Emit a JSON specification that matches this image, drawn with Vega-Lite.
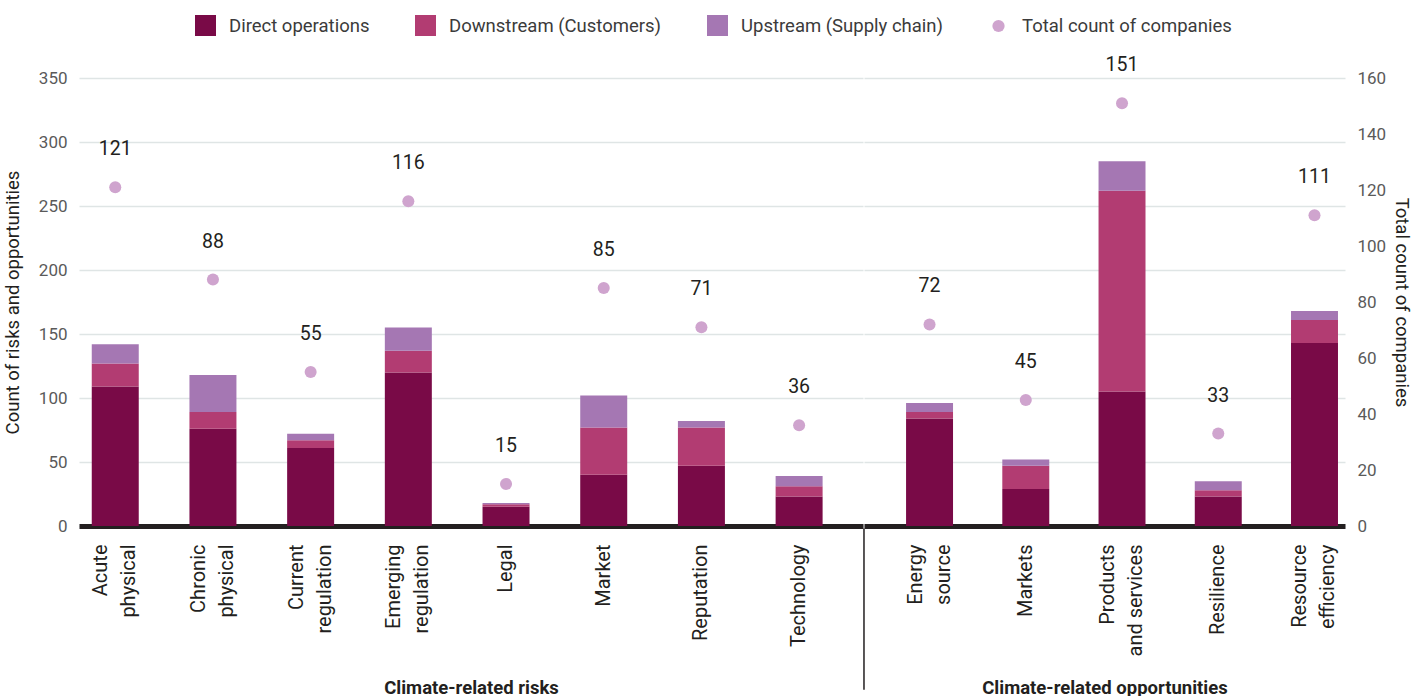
{
  "$schema": "https://vega.github.io/schema/vega-lite/v6.json",
  "background": "white",
  "padding": {"left": 3, "top": 15, "right": 5, "bottom": 3},
  "spacing": 0,
  "datasets": {
    "bars": [
      {"group": "Climate-related risks", "category": "Acute physical", "source": "Direct operations", "value": 109},
      {"group": "Climate-related risks", "category": "Acute physical", "source": "Downstream (Customers)", "value": 18},
      {"group": "Climate-related risks", "category": "Acute physical", "source": "Upstream (Supply chain)", "value": 15},
      {"group": "Climate-related risks", "category": "Chronic physical", "source": "Direct operations", "value": 76},
      {"group": "Climate-related risks", "category": "Chronic physical", "source": "Downstream (Customers)", "value": 13},
      {"group": "Climate-related risks", "category": "Chronic physical", "source": "Upstream (Supply chain)", "value": 29},
      {"group": "Climate-related risks", "category": "Current regulation", "source": "Direct operations", "value": 61},
      {"group": "Climate-related risks", "category": "Current regulation", "source": "Downstream (Customers)", "value": 6},
      {"group": "Climate-related risks", "category": "Current regulation", "source": "Upstream (Supply chain)", "value": 5},
      {"group": "Climate-related risks", "category": "Emerging regulation", "source": "Direct operations", "value": 120},
      {"group": "Climate-related risks", "category": "Emerging regulation", "source": "Downstream (Customers)", "value": 17},
      {"group": "Climate-related risks", "category": "Emerging regulation", "source": "Upstream (Supply chain)", "value": 18},
      {"group": "Climate-related risks", "category": "Legal", "source": "Direct operations", "value": 15},
      {"group": "Climate-related risks", "category": "Legal", "source": "Downstream (Customers)", "value": 2},
      {"group": "Climate-related risks", "category": "Legal", "source": "Upstream (Supply chain)", "value": 1},
      {"group": "Climate-related risks", "category": "Market", "source": "Direct operations", "value": 40},
      {"group": "Climate-related risks", "category": "Market", "source": "Downstream (Customers)", "value": 37},
      {"group": "Climate-related risks", "category": "Market", "source": "Upstream (Supply chain)", "value": 25},
      {"group": "Climate-related risks", "category": "Reputation", "source": "Direct operations", "value": 47},
      {"group": "Climate-related risks", "category": "Reputation", "source": "Downstream (Customers)", "value": 30},
      {"group": "Climate-related risks", "category": "Reputation", "source": "Upstream (Supply chain)", "value": 5},
      {"group": "Climate-related risks", "category": "Technology", "source": "Direct operations", "value": 23},
      {"group": "Climate-related risks", "category": "Technology", "source": "Downstream (Customers)", "value": 8},
      {"group": "Climate-related risks", "category": "Technology", "source": "Upstream (Supply chain)", "value": 8},
      {"group": "Climate-related opportunities", "category": "Energy source", "source": "Direct operations", "value": 84},
      {"group": "Climate-related opportunities", "category": "Energy source", "source": "Downstream (Customers)", "value": 5},
      {"group": "Climate-related opportunities", "category": "Energy source", "source": "Upstream (Supply chain)", "value": 7},
      {"group": "Climate-related opportunities", "category": "Markets", "source": "Direct operations", "value": 29},
      {"group": "Climate-related opportunities", "category": "Markets", "source": "Downstream (Customers)", "value": 18},
      {"group": "Climate-related opportunities", "category": "Markets", "source": "Upstream (Supply chain)", "value": 5},
      {"group": "Climate-related opportunities", "category": "Products and services", "source": "Direct operations", "value": 105},
      {"group": "Climate-related opportunities", "category": "Products and services", "source": "Downstream (Customers)", "value": 157},
      {"group": "Climate-related opportunities", "category": "Products and services", "source": "Upstream (Supply chain)", "value": 23},
      {"group": "Climate-related opportunities", "category": "Resilience", "source": "Direct operations", "value": 23},
      {"group": "Climate-related opportunities", "category": "Resilience", "source": "Downstream (Customers)", "value": 5},
      {"group": "Climate-related opportunities", "category": "Resilience", "source": "Upstream (Supply chain)", "value": 7},
      {"group": "Climate-related opportunities", "category": "Resource efficiency", "source": "Direct operations", "value": 143},
      {"group": "Climate-related opportunities", "category": "Resource efficiency", "source": "Downstream (Customers)", "value": 18},
      {"group": "Climate-related opportunities", "category": "Resource efficiency", "source": "Upstream (Supply chain)", "value": 7}
    ],
    "totals": [
      {"group": "Climate-related risks", "category": "Acute physical", "companies": 121},
      {"group": "Climate-related risks", "category": "Chronic physical", "companies": 88},
      {"group": "Climate-related risks", "category": "Current regulation", "companies": 55},
      {"group": "Climate-related risks", "category": "Emerging regulation", "companies": 116},
      {"group": "Climate-related risks", "category": "Legal", "companies": 15},
      {"group": "Climate-related risks", "category": "Market", "companies": 85},
      {"group": "Climate-related risks", "category": "Reputation", "companies": 71},
      {"group": "Climate-related risks", "category": "Technology", "companies": 36},
      {"group": "Climate-related opportunities", "category": "Energy source", "companies": 72},
      {"group": "Climate-related opportunities", "category": "Markets", "companies": 45},
      {"group": "Climate-related opportunities", "category": "Products and services", "companies": 151},
      {"group": "Climate-related opportunities", "category": "Resilience", "companies": 33},
      {"group": "Climate-related opportunities", "category": "Resource efficiency", "companies": 111}
    ]
  },
  "config": {
    "font": "Roboto",
    "view": {"stroke": null},
    "concat": {"spacing": 0},
    "axis": {"labelFont": "Roboto", "titleFont": "Roboto"},
    "axisX": {
      "labelAngle": -90,
      "labelFontSize": 20,
      "labelColor": "#231f20",
      "labelPadding": 18,
      "labelLineHeight": 28,
      "ticks": false,
      "domainColor": "#231f20",
      "domainWidth": 5,
      "titleFontSize": 18.5,
      "titleFontWeight": "bold",
      "titleColor": "#231f20",
      "titleY": 161,
      "titleBaseline": "middle",
      "zindex": 1
    },
    "axisY": {
      "labelFontSize": 17,
      "labelColor": "#5a5a5a",
      "labelPadding": 12,
      "ticks": false,
      "domain": false,
      "gridColor": "#dfe5e5",
      "gridWidth": 1.5,
      "titleFontSize": 18.5,
      "titleFontWeight": "normal",
      "titleColor": "#231f20",
      "titlePadding": 16
    },
    "legend": {"labelFont": "Roboto"}
  },
  "hconcat": [
    {
      "width": 784,
      "height": 448,
      "layer": [
        {
          "data": {"name": "bars"},
          "transform": [{"filter": "datum.group === 'Climate-related risks'"}],
          "mark": {"type": "bar"},
          "encoding": {
            "x": {
              "field": "category",
              "type": "nominal",
              "scale": {
                "domain": ["Acute physical", "Chronic physical", "Current regulation", "Emerging regulation", "Legal", "Market", "Reputation", "Technology"],
                "paddingInner": 0.519,
                "paddingOuter": 0.272,
                "align": 0.24
              },
              "axis": {
                "title": "Climate-related risks",
                "labelExpr": "indexof(datum.value, ' ') > 0 ? [slice(datum.value, 0, indexof(datum.value, ' ')), slice(datum.value, indexof(datum.value, ' ') + 1)] : datum.value",
                "labelOffset": {"condition": {"test": "indexof(datum.value, ' ') > 0", "value": -14}, "value": 0}
              }
            },
            "y": {
              "field": "value",
              "type": "quantitative",
              "stack": "zero",
              "scale": {"domain": [0, 350], "nice": false},
              "axis": {"title": "Count of risks and opportunities", "grid": true, "values": [0, 50, 100, 150, 200, 250, 300, 350]}
            },
            "order": {"field": "source", "type": "nominal", "sort": "ascending"},
            "color": {
              "field": "source",
              "type": "nominal",
              "scale": {
                "domain": ["Direct operations", "Downstream (Customers)", "Upstream (Supply chain)", "Total count of companies"],
                "range": ["#790a47", "#b23c72", "#a577b3", "#cfa4ce"]
              },
              "legend": {
                "orient": "none",
                "legendX": 116,
                "legendY": -63,
                "direction": "horizontal",
                "title": null,
                "padding": 0,
                "labelFontSize": 18.5,
                "labelColor": "#3b3b3b",
                "labelLimit": 400,
                "symbolSize": 441,
                "symbolType": "square",
                "symbolStrokeWidth": 0,
                "symbolOpacity": 1,
                "labelOffset": 13,
                "columnPadding": 45,
                "encode": {
                  "symbols": {
                    "update": {
                      "shape": {"signal": "datum.value === 'Total count of companies' ? 'circle' : 'square'"},
                      "size": {"signal": "datum.value === 'Total count of companies' ? 150 : 441"}
                    }
                  }
                }
              }
            }
          }
        },
        {
          "data": {"name": "totals"},
          "transform": [{"filter": "datum.group === 'Climate-related risks'"}],
          "encoding": {
            "x": {"field": "category", "type": "nominal"},
            "y": {
              "field": "companies",
              "type": "quantitative",
              "scale": {"domain": [0, 160], "nice": false},
              "axis": null
            }
          },
          "layer": [
            {
              "mark": {"type": "point", "filled": true, "size": 145, "opacity": 1},
              "encoding": {"color": {"datum": "Total count of companies"}}
            },
            {
              "mark": {"type": "text", "dy": -38, "fontSize": 19.5, "color": "#231f20"},
              "encoding": {"text": {"field": "companies", "type": "quantitative"}}
            }
          ]
        }
      ],
      "resolve": {"scale": {"y": "independent"}}
    },
    {
      "width": 481,
      "height": 448,
      "layer": [
        {
          "data": {"name": "bars"},
          "transform": [{"filter": "datum.group === 'Climate-related opportunities'"}],
          "mark": {"type": "bar"},
          "encoding": {
            "x": {
              "field": "category",
              "type": "nominal",
              "scale": {
                "domain": ["Energy source", "Markets", "Products and services", "Resilience", "Resource efficiency"],
                "paddingInner": 0.512,
                "paddingOuter": 0.255,
                "align": 0.857
              },
              "axis": {
                "title": "Climate-related opportunities",
                "labelExpr": "indexof(datum.value, ' ') > 0 ? [slice(datum.value, 0, indexof(datum.value, ' ')), slice(datum.value, indexof(datum.value, ' ') + 1)] : datum.value",
                "labelOffset": {"condition": {"test": "indexof(datum.value, ' ') > 0", "value": -14}, "value": 0}
              }
            },
            "y": {
              "field": "value",
              "type": "quantitative",
              "stack": "zero",
              "scale": {"domain": [0, 350], "nice": false},
              "axis": {"title": null, "grid": true, "labels": false, "values": [0, 50, 100, 150, 200, 250, 300, 350]}
            },
            "order": {"field": "source", "type": "nominal", "sort": "ascending"},
            "color": {"field": "source", "type": "nominal"}
          }
        },
        {
          "data": {"name": "totals"},
          "transform": [{"filter": "datum.category === 'Energy source'"}],
          "mark": {"type": "rule", "color": "#231f20", "strokeWidth": 1.5},
          "encoding": {
            "x": {"field": "category", "type": "nominal", "bandPosition": -0.896},
            "y": {"datum": -2, "type": "quantitative", "scale": {"domain": [0, 350], "nice": false}, "axis": null},
            "y2": {"datum": -128}
          }
        },
        {
          "data": {"name": "totals"},
          "transform": [{"filter": "datum.group === 'Climate-related opportunities'"}],
          "encoding": {
            "x": {"field": "category", "type": "nominal"},
            "y": {
              "field": "companies",
              "type": "quantitative",
              "scale": {"domain": [0, 160], "nice": false},
              "axis": {"orient": "right", "title": "Total count of companies", "grid": false, "titlePadding": 6, "values": [0, 20, 40, 60, 80, 100, 120, 140, 160]}
            }
          },
          "layer": [
            {
              "mark": {"type": "point", "filled": true, "size": 145, "opacity": 1},
              "encoding": {"color": {"datum": "Total count of companies"}}
            },
            {
              "mark": {"type": "text", "dy": -38, "fontSize": 19.5, "color": "#231f20"},
              "encoding": {"text": {"field": "companies", "type": "quantitative"}}
            }
          ]
        }
      ],
      "resolve": {"scale": {"y": "independent"}}
    }
  ]
}
